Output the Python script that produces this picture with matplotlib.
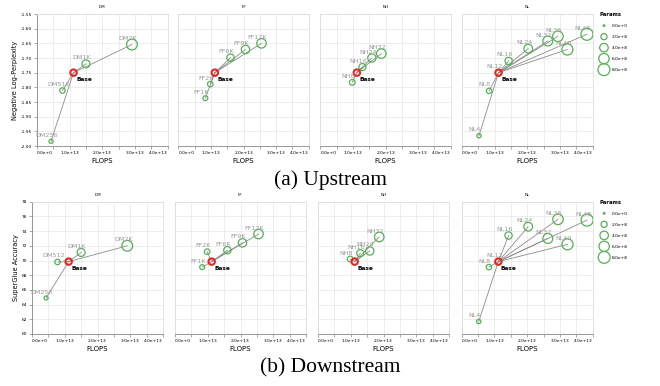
import numpy as np
import matplotlib
matplotlib.use('Agg')
import matplotlib.pyplot as plt

# Base model (same point in every panel)
base_flops = 1.12e13
base_params = 2.2e8
base_up = -1.75
base_down = 69.85

# DM: model dimension
dm_names = ['DM256', 'DM512', 'DM1K', 'DM2K']
dm_flops = [0.43e13, 0.78e13, 1.50e13, 2.91e13]
dm_params = [0.8e8, 1.5e8, 3.5e8, 6.5e8]
dm_up = [-1.984, -1.811, -1.720, -1.654]
dm_down = [64.9, 69.8, 71.1, 72.0]

# FF: feed-forward dimension
ff_names = ['FF1K', 'FF2K', 'FF6K', 'FF9K', 'FF12K']
ff_flops = [0.83e13, 0.98e13, 1.60e13, 2.06e13, 2.55e13]
ff_params = [1.2e8, 1.6e8, 3.0e8, 3.9e8, 5.0e8]
ff_up = [-1.837, -1.789, -1.699, -1.671, -1.650]
ff_down = [69.1, 71.2, 71.4, 72.4, 73.6]

# NH: number of heads
nh_names = ['NH8', 'NH16', 'NH24', 'NH32']
nh_flops = [0.98e13, 1.29e13, 1.58e13, 1.87e13]
nh_params = [1.7e8, 2.7e8, 3.8e8, 5.0e8]
nh_up = [-1.783, -1.731, -1.700, -1.685]
nh_down = [70.2, 71.0, 71.3, 73.2]

# NL: number of layers
nl_names = ['NL4', 'NL8', 'NL12', 'NL16', 'NL24', 'NL32', 'NL36', 'NL40', 'NL48']
nl_flops = [0.52e13, 0.83e13, 1.12e13, 1.43e13, 2.03e13, 2.63e13, 2.94e13, 3.23e13, 3.83e13]
nl_params = [0.9e8, 1.5e8, 2.2e8, 2.9e8, 4.2e8, 5.5e8, 6.2e8, 6.9e8, 8.2e8]
nl_up = [-1.965, -1.812, -1.75, -1.710, -1.668, -1.642, -1.626, -1.671, -1.619]
nl_down = [61.7, 69.1, 69.85, 73.4, 74.6, 73.0, 75.6, 72.2, 75.5]

legend_params = [0.0, 2e8, 4e8, 6e8, 8e8]

GREEN = '#55b055'
RED = '#e8261f'
W, H = 660, 386


def size(p):
    return 1.5 + 0.09 * p / 1e6


def sci(v):
    m, e = f"{v:.1e}".split('e')
    return f"{m}e{e[0]}{int(e[1:])}"


def rect(left, top, width, height):
    return [left / W, 1 - (top + height) / H, width / W, height / H]


def draw_panel(ax, title, names, flops, params, vals, base_val):
    for x, y in zip(flops, vals):
        ax.plot([base_flops, x], [base_val, y], color='#8c8c8c', lw=0.6, zorder=2)
    ax.scatter(flops, vals, s=[size(p) for p in params], facecolors='none',
               edgecolors=GREEN, linewidths=0.9, zorder=3)
    ax.scatter([base_flops], [base_val], s=size(base_params), facecolors='none',
               edgecolors=RED, linewidths=1.5, zorder=4)
    for n, x, y in zip(names, flops, vals):
        ax.annotate(n, (x, y), xytext=(-3, 2.5), textcoords='offset points',
                    ha='center', va='bottom', fontsize=4.6, color='#9a9a9a', zorder=5)
    ax.annotate('Base', (base_flops, base_val), xytext=(1.8, -4.8),
                textcoords='offset points', ha='left', va='center',
                fontsize=4.2, fontweight='bold', color='black', zorder=6)
    ax.set_title(title, fontsize=3, pad=4)


def style_axes(ax, ylim, ystep, yfmt, show_y):
    ax.set_xlim(0, 4e13)
    xt = np.arange(0, 4.01e13, 0.5e13)
    ax.set_xticks(xt)
    ax.set_xticklabels([sci(v) if i % 2 == 0 else '' for i, v in enumerate(xt)])
    labs = ax.get_xticklabels()
    labs[0].set_ha('left')
    labs[-1].set_ha('right')
    ax.set_ylim(*ylim)
    yt = np.arange(ylim[0], ylim[1] + ystep / 2, ystep)
    ax.set_yticks(yt)
    if show_y:
        ax.set_yticklabels([yfmt(v) for v in yt])
        ax.tick_params(axis='y', length=2, width=0.5, color='#888888', labelsize=3.2, pad=1.5)
    else:
        ax.set_yticklabels([])
        ax.tick_params(axis='y', length=0)
    ax.tick_params(axis='x', length=2, width=0.5, color='#888888', labelsize=3.2, pad=1.5)
    ax.grid(True, color='#e6e6e6', lw=0.5)
    ax.set_axisbelow(True)
    for s in ax.spines.values():
        s.set_color('#dddddd')
        s.set_linewidth(0.6)
    ax.spines['bottom'].set_color('#888888')
    if show_y:
        ax.spines['left'].set_color('#888888')
    ax.set_xlabel('FLOPS', fontsize=5, labelpad=2)


def add_legend(ax):
    handles = [ax.scatter([], [], s=size(p), facecolors='none', edgecolors=GREEN,
                          linewidths=0.9) for p in legend_params]
    leg = ax.legend(handles, [sci(p) for p in legend_params], title='Params',
                    loc='upper left', bbox_to_anchor=(1.04, 1.03), frameon=False,
                    fontsize=3.2, title_fontproperties={'weight': 'bold', 'size': 3.8},
                    labelspacing=1.55, handletextpad=0.8, borderaxespad=0,
                    alignment='left', scatterpoints=1)
    return leg


fig = plt.figure(figsize=(6.6, 3.86), dpi=100)

groups = [
    ('DM', dm_names, dm_flops, dm_params, dm_up, dm_down),
    ('FF', ff_names, ff_flops, ff_params, ff_up, ff_down),
    ('NH', nh_names, nh_flops, nh_params, nh_up, nh_down),
    ('NL', nl_names, nl_flops, nl_params, nl_up, nl_down),
]

top_lefts = [37, 178.3, 320.3, 462]
bot_lefts = [32, 175, 318, 461.7]

for i, (title, names, flops, params, up, down) in enumerate(groups):
    ax = fig.add_axes(rect(top_lefts[i], 14, 130.5, 132))
    draw_panel(ax, title, names, flops, params, up, base_up)
    style_axes(ax, (-2.0, -1.55), 0.05, lambda v: f"{v:.2f}", i == 0)
    if i == 0:
        ax.set_ylabel('Negative Log-Perplexity', fontsize=4.8, labelpad=2)
    if i == 3:
        add_legend(ax)

    ax = fig.add_axes(rect(bot_lefts[i], 201.7, 131, 132.3))
    draw_panel(ax, title, names, flops, params, down, base_down)
    style_axes(ax, (60, 78), 2, lambda v: f"{v:.0f}", i == 0)
    if i == 0:
        ax.set_ylabel('SuperGlue Accuracy', fontsize=4.8, labelpad=2)
    if i == 3:
        add_legend(ax)

fig.text(0.5, 1 - 180 / H, '(a) Upstream', ha='center', va='center',
         fontsize=15.5, family='Liberation Serif')
fig.text(0.5, 1 - 368 / H, '(b) Downstream', ha='center', va='center',
         fontsize=15.5, family='Liberation Serif')

fig.savefig('out.png', dpi=100)
